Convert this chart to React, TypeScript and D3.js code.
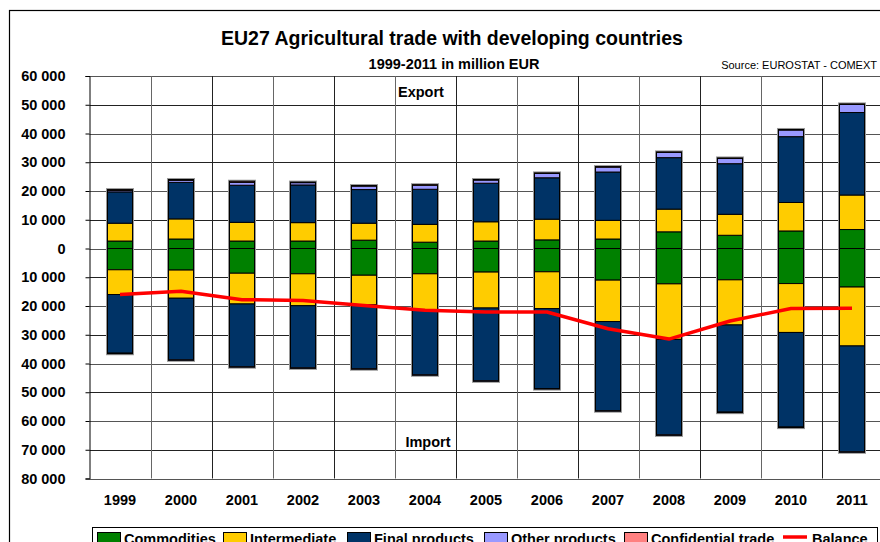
import React, { useRef, useEffect } from 'react';
import * as d3 from 'd3';

const WIDTH = 880;
const HEIGHT = 542;
const FONT = 'Liberation Sans, Arial, sans-serif';

const years = ['1999', '2000', '2001', '2002', '2003', '2004', '2005', '2006', '2007', '2008', '2009', '2010', '2011'];

// exports (million EUR)
const exportCommodities = [2600, 3300, 2600, 2600, 2900, 2200, 2600, 3000, 3300, 5800, 4600, 6100, 6600];
const exportIntermediate = [6200, 7000, 6500, 6400, 5900, 6200, 6700, 7200, 6500, 7900, 7300, 9900, 12000];
const exportFinal = [10900, 12700, 12900, 13100, 11700, 12200, 13400, 14400, 16800, 17900, 17600, 22900, 28700];
const exportOther = [500, 700, 1000, 800, 1200, 1400, 1100, 1500, 1700, 1800, 1800, 2300, 2800];
const exportConfidential = [300, 300, 400, 200, 200, 200, 200, 200, 200, 200, 200, 200, 200];

// imports (million EUR, drawn downwards)
const importCommodities = [7400, 7500, 8600, 8800, 9300, 8800, 8200, 8100, 11000, 12300, 10900, 12200, 13400];
const importIntermediate = [8600, 9800, 10700, 11100, 10300, 12600, 12500, 12800, 14400, 19300, 15700, 17000, 20500];
const importFinal = [20400, 21400, 21800, 21600, 22200, 22500, 25300, 27800, 31000, 33200, 30300, 32900, 36800];
const importOther = [200, 200, 200, 200, 200, 200, 200, 200, 200, 200, 200, 200, 200];

const balance = [-16000, -14900, -17800, -18100, -19800, -21500, -22100, -22100, -27900, -31500, -25200, -20900, -20800];

const yTicks = [60000, 50000, 40000, 30000, 20000, 10000, 0, -10000, -20000, -30000, -40000, -50000, -60000, -70000, -80000];

const COLORS = {
  commodities: '#008000',
  intermediate: '#FFCC00',
  final: '#003366',
  other: '#9999FF',
  confidential: '#FF8080',
  balance: '#FF0000',
};

const legendItems = [
  { label: 'Commodities', color: COLORS.commodities, x: 97 },
  { label: 'Intermediate', color: COLORS.intermediate, x: 223 },
  { label: 'Final products', color: COLORS.final, x: 347 },
  { label: 'Other products', color: COLORS.other, x: 484 },
  { label: 'Confidential trade', color: COLORS.confidential, x: 624 },
  { label: 'Balance', color: COLORS.balance, x: 783, line: true },
];

const fmt = (v: number) => d3.format(',')(Math.abs(v)).replace(/,/g, ' ');

const App: React.FC = () => {
  const svgRef = useRef<SVGSVGElement>(null);

  useEffect(() => {
    if (!svgRef.current) return;
    const svg = d3.select(svgRef.current);
    svg.selectAll('*').remove();

    const x = d3.scaleBand<string>().domain(years).range([89.5, 882.5]).padding(0);
    const y = d3.scaleLinear().domain([-80000, 60000]).range([478.5, 76]);
    const barW = x.bandwidth() * 0.41;
    const cx = (yr: string) => (x(yr) ?? 0) + x.bandwidth() / 2;

    // outer frame
    svg.append('rect')
      .attr('x', 9.5).attr('y', 10.5).attr('width', 900).attr('height', 600)
      .attr('fill', 'none').attr('stroke', '#000').attr('stroke-width', 1.2);

    // titles
    svg.append('text')
      .attr('x', 452).attr('y', 45).attr('text-anchor', 'middle')
      .attr('font-family', FONT).attr('font-weight', 'bold').attr('font-size', '19.5px')
      .text('EU27 Agricultural trade with developing countries');
    svg.append('text')
      .attr('x', 454).attr('y', 69).attr('text-anchor', 'middle')
      .attr('font-family', FONT).attr('font-weight', 'bold').attr('font-size', '14.5px')
      .text('1999-2011 in million EUR');
    svg.append('text')
      .attr('x', 877).attr('y', 69).attr('text-anchor', 'end')
      .attr('font-family', FONT).attr('font-size', '11px')
      .text('Source: EUROSTAT - COMEXT');

    // grid
    const grid = svg.append('g');
    grid.selectAll('line.h').data(yTicks).join('line')
      .attr('x1', 89.5).attr('x2', 882.5)
      .attr('y1', (d) => Math.round(y(d)) + 0.5).attr('y2', (d) => Math.round(y(d)) + 0.5)
      .attr('stroke', (d, i) => (i % 2 ? '#222' : '#555')).attr('stroke-width', 1);
    grid.selectAll('line.v').data(years.slice(1)).join('line')
      .attr('x1', (d) => Math.round(x(d) ?? 0) + 0.5).attr('x2', (d) => Math.round(x(d) ?? 0) + 0.5)
      .attr('y1', y(60000)).attr('y2', y(-80000))
      .attr('stroke', (d, i) => (i % 2 ? '#222' : '#666')).attr('stroke-width', 1);

    // y axis
    const yAxis = svg.append('g')
      .attr('transform', 'translate(89.5,0)')
      .call(d3.axisLeft(y).tickValues(yTicks).tickSize(4).tickPadding(20).tickFormat((d) => fmt(+d)));
    yAxis.select('.domain').attr('stroke', '#000');
    yAxis.selectAll('.tick line').attr('stroke', '#000');
    yAxis.selectAll('.tick text')
      .attr('font-family', FONT).attr('font-weight', 'bold').attr('font-size', '14.5px').attr('fill', '#000');

    // x labels
    svg.append('g').selectAll('text').data(years).join('text')
      .attr('x', (d) => cx(d)).attr('y', 505).attr('text-anchor', 'middle')
      .attr('font-family', FONT).attr('font-weight', 'bold').attr('font-size', '14.5px')
      .text((d) => d);

    // stacks
    const expSeries = [
      { values: exportCommodities, color: COLORS.commodities },
      { values: exportIntermediate, color: COLORS.intermediate },
      { values: exportFinal, color: COLORS.final },
      { values: exportOther, color: COLORS.other },
      { values: exportConfidential, color: COLORS.confidential },
    ];
    const impSeries = [
      { values: importCommodities, color: COLORS.commodities },
      { values: importIntermediate, color: COLORS.intermediate },
      { values: importFinal, color: COLORS.final },
      { values: importOther, color: COLORS.other },
    ];

    const bars = svg.append('g');
    years.forEach((yr, i) => {
      const bx = cx(yr) - barW / 2;
      const expTotal = d3.sum(expSeries, (s) => s.values[i]);
      const impTotal = d3.sum(impSeries, (s) => s.values[i]);
      // soft shadow outline
      bars.append('rect')
        .attr('x', bx).attr('y', y(expTotal)).attr('width', barW).attr('height', y(0) - y(expTotal))
        .attr('fill', 'none').attr('stroke', '#999').attr('stroke-width', 3);
      bars.append('rect')
        .attr('x', bx).attr('y', y(0)).attr('width', barW).attr('height', y(-impTotal) - y(0))
        .attr('fill', 'none').attr('stroke', '#999').attr('stroke-width', 3);

      let acc = 0;
      expSeries.forEach((s) => {
        const v = s.values[i];
        if (!v) return;
        bars.append('rect')
          .attr('x', bx).attr('y', y(acc + v)).attr('width', barW).attr('height', y(acc) - y(acc + v))
          .attr('fill', s.color).attr('stroke', '#000').attr('stroke-width', 1);
        acc += v;
      });
      acc = 0;
      impSeries.forEach((s) => {
        const v = s.values[i];
        if (!v) return;
        bars.append('rect')
          .attr('x', bx).attr('y', y(-acc)).attr('width', barW).attr('height', y(-acc - v) - y(-acc))
          .attr('fill', s.color).attr('stroke', '#000').attr('stroke-width', 1);
        acc += v;
      });
    });

    // balance line
    const line = d3.line<number>().x((d, i) => cx(years[i])).y((d) => y(d));
    svg.append('path')
      .attr('d', line(balance) ?? '')
      .attr('fill', 'none').attr('stroke', COLORS.balance).attr('stroke-width', 3.5)
      .attr('stroke-linejoin', 'round');

    // annotations
    svg.append('text')
      .attr('x', 421).attr('y', 97).attr('text-anchor', 'middle')
      .attr('font-family', FONT).attr('font-weight', 'bold').attr('font-size', '14.5px')
      .text('Export');
    svg.append('text')
      .attr('x', 428).attr('y', 447).attr('text-anchor', 'middle')
      .attr('font-family', FONT).attr('font-weight', 'bold').attr('font-size', '14.5px')
      .text('Import');

    // legend
    const lg = svg.append('g');
    lg.append('rect')
      .attr('x', 92.5).attr('y', 527.5).attr('width', 785).attr('height', 30)
      .attr('fill', '#fff').attr('stroke', '#000').attr('stroke-width', 1);
    legendItems.forEach((it) => {
      if (it.line) {
        lg.append('line')
          .attr('x1', it.x).attr('x2', it.x + 24).attr('y1', 537).attr('y2', 537)
          .attr('stroke', it.color).attr('stroke-width', 3.5);
      } else {
        lg.append('rect')
          .attr('x', it.x + 0.5).attr('y', 532.5).attr('width', 23).attr('height', 11)
          .attr('fill', it.color).attr('stroke', '#000').attr('stroke-width', 1);
      }
      lg.append('text')
        .attr('x', it.x + (it.line ? 29 : 27)).attr('y', 544)
        .attr('font-family', FONT).attr('font-weight', 'bold').attr('font-size', '14.5px')
        .text(it.label);
    });
  }, []);

  return (
    <svg
      ref={svgRef}
      width={WIDTH}
      height={HEIGHT}
      style={{ position: 'absolute', left: 0, top: 0, background: '#fff', display: 'block' }}
    />
  );
};

export default App;
